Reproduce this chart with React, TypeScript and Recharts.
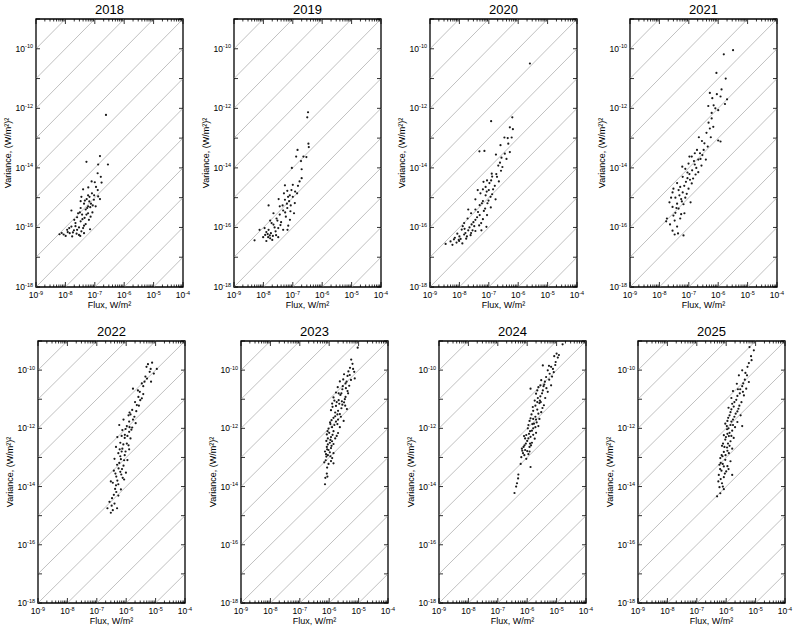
import React from 'react';
import { ScatterChart, Scatter, XAxis, YAxis, ReferenceLine, ReferenceArea } from 'recharts';

// ---------- data ----------
const years = ['2018', '2019', '2020', '2021', '2022', '2023', '2024', '2025'];

const fluxDecadeTicks = [1e-9, 1e-8, 1e-7, 1e-6, 1e-5, 1e-4];
const fluxMinorFactors = [2, 3, 4, 5, 6, 7, 8, 9];
const varianceDecadeTicks = [1e-18, 1e-17, 1e-16, 1e-15, 1e-14, 1e-13, 1e-12, 1e-11, 1e-10, 1e-9];
const varianceLabelTicks = [1e-18, 1e-16, 1e-14, 1e-12, 1e-10];
// guide lines: variance = ratio * flux
const varianceFluxRatios = [1e-13, 1e-12, 1e-11, 1e-10, 1e-9, 1e-8, 1e-7, 1e-6, 1e-5, 1e-4, 1e-3, 1e-2, 1e-1];

const FLUX_DOMAIN: [number, number] = [1e-9, 1e-4];
const VAR_DOMAIN: [number, number] = [1e-18, 1e-9];

// [flux W/m^2, variance (W/m^2)^2]
const points2018: [number, number][] = [
  [2.4e-7, 6e-13], [1.5e-7, 2.5e-14], [5.2e-8, 1.6e-14], [2.8e-7, 1.3e-14], [1.3e-7, 1.3e-14],
  [1.25e-7, 6.6e-15], [1.6e-7, 5e-15], [7.8e-8, 3.5e-15], [1e-7, 3.3e-15], [1.7e-7, 3.2e-15],
  [1.26e-7, 1.8e-15], [4e-8, 1.9e-15], [5.9e-8, 1.2e-15], [6.6e-8, 1.07e-15], [5.3e-8, 9e-16],
  [9.3e-8, 8.5e-16], [1.5e-7, 9e-16], [3.3e-8, 7.6e-16], [7.4e-8, 6.3e-16], [1.07e-7, 5.1e-16],
  [1.6e-8, 3.7e-16], [3.3e-8, 4.5e-16], [4.9e-8, 4e-16], [5.9e-8, 3e-16], [8.3e-8, 3.2e-16],
  [3.7e-8, 2.7e-16], [2.5e-8, 2.2e-16], [4.5e-8, 2.1e-16], [6.3e-8, 1.8e-16], [3.3e-8, 1.6e-16],
  [2.2e-8, 1.4e-16], [4.9e-8, 1.3e-16], [1.6e-8, 1.07e-16], [2.9e-8, 1e-16], [4.3e-8, 1.15e-16],
  [6.9e-8, 8.7e-17], [1.15e-8, 8.3e-17], [1.95e-8, 8e-17], [3.5e-8, 7.4e-17], [1.4e-8, 6.4e-17],
  [2.4e-8, 6.2e-17], [8.7e-9, 5.8e-17], [6.3e-9, 5.9e-17], [1.02e-8, 5.2e-17], [1.7e-8, 5e-17],
  [2.9e-8, 5.6e-17], [4.3e-8, 6.4e-17], [1.35e-8, 9.5e-17], [5.2e-8, 2.7e-16], [7.2e-8, 2.3e-16],
  [3.1e-8, 3.2e-16], [5.9e-8, 5.1e-16], [4.3e-8, 6.3e-16], [9.5e-8, 1.2e-15], [3.5e-8, 1.07e-15],
  [2.5e-8, 8.3e-17], [2e-8, 1.8e-16], [1.2e-8, 7e-17], [2.2e-8, 1.1e-16], [3.8e-8, 1.9e-16],
  [2.7e-8, 3e-16], [5.5e-8, 4.5e-16], [4e-8, 9.5e-17], [1.8e-8, 6.8e-17], [7.5e-9, 6.5e-17],
  [3.2e-8, 5.2e-17], [6.5e-8, 7.5e-16], [8e-8, 1.4e-15], [1.1e-7, 2.3e-15], [6e-8, 2.2e-15],
  [4.6e-8, 8e-16], [8.5e-8, 5.5e-16], [1.3e-7, 1.1e-15], [7e-8, 4.8e-16],
];

const points2019: [number, number][] = [
  [3.3e-7, 7.4e-13], [3.1e-7, 5e-13], [3.4e-7, 6.5e-14], [3.5e-7, 5e-14], [1.45e-7, 4e-14],
  [1.3e-7, 2.4e-14], [2.3e-7, 2.4e-14], [2.9e-7, 2.3e-14], [1.9e-7, 1.7e-14], [9.3e-8, 1e-14],
  [2e-7, 9e-15], [2e-7, 4.5e-15], [5.4e-8, 2.6e-15], [1e-7, 2.7e-15], [6.5e-8, 1.7e-15],
  [1.2e-7, 1.6e-15], [7.9e-8, 1.2e-15], [1e-7, 1.07e-15], [1.4e-7, 1.4e-15], [5.4e-8, 8.5e-16],
  [7.5e-8, 7.6e-16], [3.3e-8, 9e-16], [1.5e-8, 5.5e-16], [4.5e-8, 5.5e-16], [6.5e-8, 4.5e-16],
  [4.7e-8, 3.7e-16], [8.3e-8, 3.5e-16], [1.1e-7, 3e-16], [3.6e-8, 2.7e-16], [5.8e-8, 2.3e-16],
  [2.8e-8, 2e-16], [8e-8, 1.8e-16], [1.7e-8, 1.7e-16], [4e-8, 1.5e-16], [2.2e-8, 1.25e-16],
  [7e-8, 1.15e-16], [1.1e-8, 9.5e-17], [3.2e-8, 9.5e-17], [7.4e-9, 8.3e-17], [4.7e-8, 8.3e-17],
  [1.26e-8, 7e-17], [1.8e-8, 6.4e-17], [2.6e-8, 7.4e-17], [5e-9, 3.7e-17], [1.15e-8, 5.6e-17],
  [1.45e-8, 4.7e-17], [2e-8, 3.8e-17], [1.26e-8, 3.5e-17], [1.65e-8, 5.4e-17], [9.8e-9, 4.7e-17],
  [3.2e-8, 4.7e-17], [1.5e-8, 8.3e-17], [2.2e-8, 3e-16], [3.6e-8, 5.1e-16], [5e-8, 1.4e-15],
  [6.9e-8, 1.07e-15], [1.17e-7, 6.6e-16], [6.3e-8, 6.3e-16], [9e-8, 1.8e-15], [6.6e-8, 8.3e-17],
  [1.4e-8, 6e-17], [2.1e-8, 5.2e-17], [1.7e-8, 4.3e-17], [2.4e-8, 1e-16], [1.9e-8, 1.4e-16],
  [3e-8, 1.7e-16], [2.7e-8, 5.5e-17], [3.8e-8, 1.2e-16], [5.5e-8, 3.2e-16], [8.5e-8, 5.5e-16],
  [1.5e-7, 2.5e-15], [1.7e-7, 3.5e-15],
];

const points2020: [number, number][] = [
  [2.5e-6, 3.2e-11], [1.2e-7, 3.7e-13], [6.3e-7, 5e-13], [5.2e-7, 2.3e-13], [6.6e-7, 2e-13],
  [3.4e-7, 1.05e-13], [4.4e-7, 1e-13], [6e-7, 1.05e-13], [2.5e-7, 5.8e-14], [4.8e-8, 3.6e-14],
  [7.1e-8, 3.7e-14], [5.2e-7, 3.4e-14], [1.75e-7, 2.8e-14], [2.7e-7, 2.2e-14], [4e-7, 2e-14],
  [2.4e-7, 1.5e-14], [2.9e-7, 1.07e-14], [1.8e-7, 6.2e-15], [1.26e-7, 6.4e-15], [1.9e-7, 5e-15],
  [1.3e-7, 5.1e-15], [2.2e-7, 3.5e-15], [4.2e-8, 1.8e-15], [6.3e-8, 1.9e-15], [1e-7, 1.8e-15],
  [1.4e-7, 1.9e-15], [5.2e-8, 1.4e-15], [7.8e-8, 1.2e-15], [1.15e-7, 1.07e-15], [1.7e-7, 8.8e-16],
  [3.5e-8, 8.8e-16], [6.3e-8, 7.7e-16], [9e-8, 6.5e-16], [4.9e-8, 5.6e-16], [1.17e-7, 4.7e-16],
  [3.5e-8, 4e-16], [6.8e-8, 3.6e-16], [2.5e-8, 3e-16], [4.9e-8, 2.6e-16], [8.7e-8, 2.6e-16],
  [1.9e-8, 2e-16], [3.5e-8, 1.8e-16], [6.3e-8, 1.9e-16], [1.45e-8, 1.4e-16], [2.6e-8, 1.26e-16],
  [4.7e-8, 1.17e-16], [8.3e-8, 1.05e-16], [1.2e-8, 8.5e-17], [2e-8, 8e-17], [3.5e-8, 7.6e-17],
  [8.5e-9, 6.2e-17], [1.45e-8, 5.8e-17], [2.4e-8, 5.5e-17], [7e-9, 4.5e-17], [1.1e-8, 4.1e-17],
  [1.7e-8, 4.2e-17], [3.4e-9, 2.8e-17], [5e-9, 3.4e-17], [8e-9, 3.1e-17], [1.26e-8, 2.9e-17],
  [9.8e-9, 3.5e-17], [5.8e-9, 2.6e-17], [2.8e-8, 8e-17], [5.6e-8, 8e-17], [7.8e-8, 2.3e-15],
  [1.05e-7, 3.1e-15], [8.7e-8, 3.8e-15], [6.6e-8, 3.4e-15], [1e-8, 5e-17], [1.6e-8, 6.5e-17],
  [2.2e-8, 1e-16], [3e-8, 1.5e-16], [4e-8, 2.2e-16], [9.5e-9, 3.8e-17], [1.5e-8, 9e-17],
  [2.5e-8, 6.5e-17], [3.2e-8, 1.1e-16], [5.5e-8, 1.4e-16], [4.3e-8, 3.3e-16], [7.5e-8, 4.3e-16],
  [5.8e-8, 6.5e-16], [9.8e-8, 8e-16], [1.3e-7, 1.3e-15], [8.5e-8, 1.6e-15], [1.6e-7, 2.5e-15],
  [1.2e-7, 3.8e-15], [2.6e-7, 8e-15], [2.1e-7, 1.2e-14], [3.5e-7, 3e-14], [4.6e-7, 6.5e-14],
  [2e-8, 4e-16], [1.3e-8, 1.1e-16], [6.5e-9, 4e-17], [1.8e-8, 5e-17],
];

const points2021: [number, number][] = [
  [3.2e-6, 9e-11], [1.55e-6, 6.5e-11], [8.7e-7, 1.55e-11], [1.8e-6, 1e-11], [1.3e-6, 4.3e-12],
  [5.2e-7, 3.3e-12], [6.3e-7, 2.2e-12], [2e-6, 2e-12], [1.7e-6, 1.4e-12], [4.6e-7, 1.2e-12],
  [7e-7, 1.26e-12], [8e-7, 1e-12], [1e-6, 8.7e-13], [6e-7, 4.6e-13], [4.7e-7, 3.3e-13],
  [5.2e-7, 2.1e-13], [6.8e-7, 2.4e-13], [2.2e-7, 1.07e-13], [5.6e-7, 1.07e-13], [1e-6, 8.3e-14],
  [1.2e-6, 7.7e-14], [3.4e-7, 6.7e-14], [4.4e-7, 5.2e-14], [1.6e-7, 3.1e-14], [2.4e-7, 3.1e-14],
  [2.9e-7, 2.7e-14], [1.26e-7, 2.4e-14], [2.1e-7, 1.9e-14], [3.8e-7, 1.9e-14], [9.8e-8, 1.4e-14],
  [1.6e-7, 1.3e-14], [2.7e-7, 1.2e-14], [7.6e-8, 9.3e-15], [1.3e-7, 8.3e-15], [2.1e-7, 7.2e-15],
  [1.05e-7, 6.2e-15], [6.2e-8, 5e-15], [1.4e-7, 4.4e-15], [4e-8, 3.1e-15], [8e-8, 3.4e-15],
  [1.26e-7, 3e-15], [5.1e-8, 2.3e-15], [9.8e-8, 2e-15], [2.8e-8, 1.5e-15], [6.2e-8, 1.5e-15],
  [8.5e-8, 1.35e-15], [3.5e-8, 1e-15], [5.5e-8, 9e-16], [2.2e-8, 7e-16], [4e-8, 6.3e-16],
  [6.6e-8, 6e-16], [2.8e-8, 4.9e-16], [4.5e-8, 4.3e-16], [3.5e-8, 3.1e-16], [5.5e-8, 2.8e-16],
  [1.8e-8, 2e-16], [3.3e-8, 1.7e-16], [5.1e-8, 2e-16], [2.3e-8, 1.26e-16], [4e-8, 1.07e-16],
  [2.8e-8, 7.8e-17], [4.3e-8, 6.3e-17], [6.6e-8, 5.4e-17], [3.3e-8, 5.8e-17], [1.7e-8, 1.6e-16],
  [7.6e-8, 1e-15], [1.15e-7, 7e-16], [7.1e-8, 3e-16], [1.05e-7, 2.4e-14], [1.9e-7, 4e-14],
  [1.8e-7, 1e-14], [9e-8, 4.5e-15], [4.8e-8, 1.2e-15], [3e-8, 2.5e-16], [3.8e-8, 4.5e-16],
  [5.8e-8, 7.5e-16], [4.5e-8, 1.8e-15], [7e-8, 2.5e-15], [1.1e-7, 4e-15], [9e-8, 7e-15],
  [1.5e-7, 1.7e-14], [2.5e-7, 2e-14], [3.2e-7, 4e-14], [2.8e-7, 8e-14], [4e-7, 1.5e-13],
  [6e-7, 7e-13], [9e-7, 3e-12], [1.2e-6, 2.5e-12], [2.5e-8, 1e-15], [3e-8, 2e-15],
  [6e-8, 1.1e-14], [1.7e-7, 6e-15],
];

const points2022: [number, number][] = [
  [7.6e-6, 1.8e-10], [1.1e-5, 1.1e-10], [4.9e-6, 1.3e-10], [6.3e-6, 8.7e-11], [8.7e-6, 7.6e-11],
  [5.1e-6, 5.1e-11], [7e-6, 4e-11], [4.2e-6, 4e-11], [3.8e-6, 2.8e-11], [1.7e-6, 2.3e-11],
  [2.9e-6, 1.8e-11], [2.6e-6, 1.2e-11], [3.4e-6, 1.07e-11], [3e-6, 9.3e-12], [2.3e-6, 6.3e-12],
  [1.6e-6, 4.3e-12], [2.2e-6, 3.9e-12], [1.2e-6, 2.8e-12], [1.9e-6, 2.5e-12], [8.1e-7, 2e-12],
  [1.26e-6, 1.7e-12], [2.1e-6, 1.5e-12], [5.8e-7, 1.3e-12], [1.05e-6, 1.2e-12], [1.6e-6, 1.07e-12],
  [7.4e-7, 8.7e-13], [1.26e-6, 7.6e-13], [5e-7, 5e-13], [8.9e-7, 4.7e-13], [1.4e-6, 4.5e-13],
  [6.3e-7, 3.2e-13], [1.05e-6, 3e-13], [4.5e-7, 2.3e-13], [7.4e-7, 2e-13], [1.26e-6, 1.9e-13],
  [5.4e-7, 1.4e-13], [8.9e-7, 1.2e-13], [4e-7, 9e-14], [6.6e-7, 8.7e-14], [1.1e-6, 8.1e-14],
  [4.9e-7, 5.6e-14], [8.1e-7, 5.2e-14], [3.8e-7, 3.5e-14], [6.3e-7, 3.2e-14], [9.8e-7, 3e-14],
  [4.6e-7, 2.2e-14], [7.6e-7, 2e-14], [3.5e-7, 1.35e-14], [5.4e-7, 1.2e-14], [4.2e-7, 8.3e-15],
  [6.6e-7, 8e-15], [3.8e-7, 5.2e-15], [5.4e-7, 4.9e-15], [2.7e-7, 3e-15], [4e-7, 2.6e-15],
  [2.3e-7, 1.8e-15], [3.5e-7, 1.55e-15], [4.9e-7, 1.8e-15], [3e-7, 1.26e-15], [8.5e-7, 1.75e-14],
  [3e-7, 1.5e-14], [9e-7, 6e-13], [1.5e-6, 9e-13], [7e-7, 1.6e-13], [5.8e-7, 6.5e-14],
  [1.3e-6, 3.5e-12], [5.5e-6, 1.6e-10], [6.8e-6, 1.1e-10], [4.5e-6, 6e-11], [3.4e-6, 3.5e-11],
  [2.5e-6, 2e-11], [3.8e-6, 1.5e-11], [2e-6, 8e-12], [2.7e-6, 6e-12], [1.4e-6, 3e-12],
  [1.7e-6, 2e-12], [1.3e-6, 1.1e-12], [9.5e-7, 9.5e-13], [1.1e-6, 5.5e-13], [7e-7, 5.5e-13],
  [8e-7, 2.8e-13], [1.2e-6, 2.6e-13], [6e-7, 1.9e-13], [9.5e-7, 1.6e-13], [6.3e-7, 1.1e-13],
  [8.5e-7, 8e-14], [5.5e-7, 4.2e-14], [7.2e-7, 4e-14], [4.3e-7, 2.8e-14], [6.8e-7, 2.6e-14],
  [5e-7, 1.6e-14], [4.5e-7, 1.1e-14], [3.3e-7, 4e-15], [4.6e-7, 6.5e-15], [3.2e-7, 2.2e-15],
];

const points2023: [number, number][] = [
  [5.6e-6, 2.3e-10], [6.2e-6, 1.65e-10], [5.1e-6, 1.2e-10], [7.1e-6, 8.7e-11], [3.2e-6, 7.2e-11],
  [4.2e-6, 6.3e-11], [7.4e-6, 5.2e-11], [5.5e-6, 4.6e-11], [2.3e-6, 4.1e-11], [3.6e-6, 3.5e-11],
  [4.8e-6, 2.9e-11], [1.95e-6, 2.6e-11], [2.8e-6, 2.2e-11], [4.2e-6, 1.9e-11], [1.7e-6, 1.7e-11],
  [2.4e-6, 1.4e-11], [3.6e-6, 1.2e-11], [1.4e-6, 1.15e-11], [2.1e-6, 9.3e-12], [3.2e-6, 7.8e-12],
  [1.26e-6, 7.1e-12], [1.7e-6, 5.9e-12], [2.6e-6, 4.9e-12], [4e-6, 4.6e-12], [1.15e-6, 4.2e-12],
  [1.6e-6, 3.5e-12], [2.3e-6, 3.1e-12], [1.4e-6, 2.3e-12], [2e-6, 2e-12], [3.1e-6, 1.8e-12],
  [1.07e-6, 1.6e-12], [1.5e-6, 1.3e-12], [2.3e-6, 1.1e-12], [9.5e-7, 9.8e-13], [1.4e-6, 8e-13],
  [2e-6, 6.9e-13], [8.3e-7, 6.2e-13], [1.15e-6, 5e-13], [1.6e-6, 4.5e-13], [8e-7, 3.7e-13],
  [1.05e-6, 3.2e-13], [1.4e-6, 2.9e-13], [8.3e-7, 2.3e-13], [1.15e-6, 2.1e-13], [7.2e-7, 1.6e-13],
  [1.05e-6, 1.5e-13], [1.4e-6, 1.4e-13], [8e-7, 1.07e-13], [1.26e-6, 9.5e-14], [6.8e-7, 6.8e-14],
  [9.5e-7, 6e-14], [1.4e-6, 6.3e-14], [8.3e-7, 2.8e-14], [7.4e-7, 2e-14], [8.7e-7, 2.2e-14],
  [7.2e-7, 1.2e-14], [9.3e-6, 5.9e-10], [1.8e-6, 8e-12], [2.8e-6, 6.5e-12], [1.9e-6, 3e-12],
  [1.2e-6, 1.9e-12], [1.7e-6, 1.7e-12], [1.25e-6, 1.1e-12], [1e-6, 7e-13], [9e-7, 2.8e-13],
  [1.1e-6, 4e-13], [9.5e-7, 1.8e-13], [4.5e-6, 9e-11], [3e-6, 4.8e-11], [2.6e-6, 1.6e-11],
  [9e-7, 1.2e-13], [1.3e-6, 5.5e-12], [2.2e-6, 7e-12], [3.4e-6, 1e-11], [2.9e-6, 2.8e-11],
  [3.9e-6, 4e-11], [5e-6, 6.8e-11], [6.5e-6, 1.1e-10], [1.6e-6, 2.6e-12], [2.5e-6, 2.5e-12],
  [1.1e-6, 1.4e-12], [1.9e-6, 1.4e-12], [8.8e-7, 8e-13], [1.3e-6, 6e-13], [1.8e-6, 5.5e-13],
  [9e-7, 4.5e-13], [1.25e-6, 3.6e-13], [8.5e-7, 1.9e-13], [1.2e-6, 2.5e-13], [7.8e-7, 1.3e-13],
  [1.1e-6, 1.1e-13], [7.6e-7, 8e-14], [1.15e-6, 7.5e-14], [8.5e-7, 4.5e-14], [2.1e-6, 1.6e-11],
  [3.7e-6, 2.4e-11], [4.4e-6, 1.6e-11], [2.7e-6, 8.5e-12], [1.5e-6, 9e-12], [2e-6, 4e-12],
  [3.5e-6, 6e-12],
];

const points2024: [number, number][] = [
  [1.6e-5, 7.7e-10], [1e-5, 3.7e-10], [1.1e-5, 2.7e-10], [8.3e-6, 3e-10], [9.3e-6, 1.9e-10],
  [3.4e-6, 1.45e-10], [6.5e-6, 1.3e-10], [8e-6, 8.5e-11], [5e-6, 9.8e-11], [4.4e-6, 5.8e-11],
  [5.6e-6, 4.7e-11], [3e-6, 4.5e-11], [3.8e-6, 3.2e-11], [6.5e-6, 3e-11], [2.4e-6, 2.6e-11],
  [1.3e-6, 2.3e-11], [3.4e-6, 2e-11], [5e-6, 1.8e-11], [2e-6, 1.55e-11], [2.8e-6, 1.26e-11],
  [4.1e-6, 1.1e-11], [1.8e-6, 9e-12], [2.6e-6, 7.4e-12], [3.7e-6, 6.2e-12], [1.55e-6, 5.4e-12],
  [2.2e-6, 4.4e-12], [3e-6, 3.6e-12], [1.4e-6, 3e-12], [1.9e-6, 2.5e-12], [2.6e-6, 2.1e-12],
  [1.2e-6, 1.8e-12], [1.7e-6, 1.45e-12], [2.4e-6, 1.2e-12], [1.05e-6, 1e-12], [1.45e-6, 8.3e-13],
  [2e-6, 7e-13], [9.3e-7, 5.9e-13], [1.3e-6, 5.1e-13], [1.8e-6, 4.4e-13], [7.8e-7, 5.4e-13],
  [1e-6, 3.7e-13], [1.45e-6, 3.2e-13], [8.1e-7, 2.6e-13], [1.2e-6, 2.3e-13], [6.6e-7, 2e-13],
  [1e-6, 1.65e-13], [7.2e-7, 1.4e-13], [1.1e-6, 1.3e-13], [6.3e-7, 1.02e-13], [9.3e-7, 9e-14],
  [1.3e-6, 4.7e-14], [5e-7, 2.6e-14], [4.9e-7, 1.9e-14], [4.5e-7, 1.3e-14], [4.2e-7, 1e-14],
  [3.7e-7, 6e-15], [6e-7, 6e-14], [2.2e-6, 2e-11], [2.7e-6, 9e-12], [1.6e-6, 2.1e-12],
  [2.1e-6, 1.6e-12], [1.15e-6, 6.5e-13], [1.6e-6, 1e-12], [3.3e-6, 5e-12], [1.25e-6, 3e-13],
  [8.5e-7, 1.8e-13], [4.5e-6, 2.4e-11], [7e-6, 6e-11], [9e-6, 1.5e-10], [7.5e-6, 1.1e-10],
  [5.8e-6, 7.5e-11], [4e-6, 4e-11], [2.8e-6, 3e-11], [3.2e-6, 1.6e-11], [2.3e-6, 1.1e-11],
  [1.9e-6, 6e-12], [2.9e-6, 8e-12], [1.6e-6, 4e-12], [2.4e-6, 3.2e-12], [1.3e-6, 2.2e-12],
  [2e-6, 2e-12], [1.1e-6, 1.3e-12], [1.9e-6, 1.1e-12], [1.25e-6, 8e-13], [8.5e-7, 4.5e-13],
  [1.6e-6, 6e-13], [1.1e-6, 4.5e-13], [9e-7, 3e-13], [1.35e-6, 2.6e-13], [7.5e-7, 2.3e-13],
  [1.2e-6, 1.6e-13], [8e-7, 1.2e-13], [6.8e-7, 1.7e-13], [1.5e-6, 1.4e-12], [2.2e-6, 8e-12],
  [3.6e-6, 2.8e-11], [5.5e-6, 1.4e-10], [1.2e-5, 3.3e-10],
];

const points2025: [number, number][] = [
  [6.2e-6, 6.2e-10], [8.7e-6, 4.8e-10], [7.3e-6, 2.2e-10], [5.9e-6, 1.75e-10], [3.5e-6, 9.8e-11],
  [5.1e-6, 6.6e-11], [2.7e-6, 6.6e-11], [4.3e-6, 4.7e-11], [5.9e-6, 3.9e-11], [2.3e-6, 3.4e-11],
  [3.5e-6, 2.8e-11], [4.8e-6, 2.3e-11], [1.7e-6, 1.9e-11], [2.9e-6, 1.6e-11], [4e-6, 1.35e-11],
  [1.5e-6, 1.1e-11], [2.2e-6, 9.5e-12], [3.3e-6, 7.9e-12], [1.2e-6, 5.1e-12], [1.8e-6, 5.6e-12],
  [2.6e-6, 4.7e-12], [1.4e-6, 3.6e-12], [2.1e-6, 3.2e-12], [3.1e-6, 2.8e-12], [1.17e-6, 2.3e-12],
  [1.7e-6, 2e-12], [2.4e-6, 1.65e-12], [9.3e-7, 1.45e-12], [1.4e-6, 1.3e-12], [3.5e-6, 1.2e-12],
  [1.07e-6, 9.3e-13], [1.6e-6, 8.3e-13], [8.3e-7, 5.8e-13], [1.23e-6, 5.4e-13], [1.8e-6, 4.7e-13],
  [9.3e-7, 4.1e-13], [1.4e-6, 3.6e-13], [7.2e-7, 2.5e-13], [1.07e-6, 2.2e-13], [1.6e-6, 2e-13],
  [8.3e-7, 1.55e-13], [1.23e-6, 1.4e-13], [6.3e-7, 9.5e-14], [9.3e-7, 8.3e-14], [1.4e-6, 7.4e-14],
  [5.9e-7, 5.6e-14], [8.3e-7, 4.9e-14], [6.9e-7, 3.5e-14], [1e-6, 3.3e-14], [5.6e-7, 2.5e-14],
  [8.3e-7, 2.1e-14], [1.6e-6, 2.5e-14], [5.4e-7, 1.5e-14], [7.2e-7, 1.3e-14], [5.9e-7, 9.5e-15],
  [8.3e-7, 8.1e-15], [4.9e-7, 4.6e-15], [6.3e-7, 5.9e-15], [1.9e-6, 8e-12], [1.3e-6, 2.8e-12],
  [2e-6, 1.1e-12], [1.1e-6, 6.5e-13], [7.8e-7, 3e-13], [1.2e-6, 1e-12], [6.5e-7, 6.5e-14],
  [7.5e-7, 1.1e-13], [2.5e-6, 2.2e-11], [1.1e-6, 1.8e-12], [7e-6, 3e-10], [5.3e-6, 1.3e-10],
  [4.5e-6, 8e-11], [3.8e-6, 3.5e-11], [3e-6, 2.2e-11], [2.4e-6, 1.3e-11], [3.7e-6, 1.8e-11],
  [1.6e-6, 7e-12], [2.8e-6, 6e-12], [1.5e-6, 4.5e-12], [2.4e-6, 3.8e-12], [1.9e-6, 2.5e-12],
  [1.5e-6, 1.7e-12], [1.05e-6, 1.2e-12], [1.7e-6, 1.3e-12], [1.3e-6, 7e-13], [9.8e-7, 5e-13],
  [1.5e-6, 5.5e-13], [1.15e-6, 3e-13], [8.7e-7, 2.3e-13], [1.3e-6, 2.5e-13], [9.5e-7, 1.2e-13],
  [7e-7, 1.2e-13], [1.1e-6, 1.7e-13], [7.6e-7, 6e-14], [1.1e-6, 5e-14], [6.2e-7, 4e-14],
  [9e-7, 2.8e-14], [6.5e-7, 1.8e-14], [7.7e-7, 1e-14], [1.2e-6, 4e-14],
];

const yearPoints = [points2018, points2019, points2020, points2021, points2022, points2023, points2024, points2025];

// ---------- derived tables ----------
const fluxTicks: number[] = [];
fluxDecadeTicks.forEach((d, i) => {
  fluxTicks.push(d);
  if (i < fluxDecadeTicks.length - 1) fluxMinorFactors.forEach((m) => fluxTicks.push(m * d));
});

const diagonalSegments = varianceFluxRatios.map((r) => {
  const xa = Math.max(FLUX_DOMAIN[0], VAR_DOMAIN[0] / r);
  const xb = Math.min(FLUX_DOMAIN[1], VAR_DOMAIN[1] / r);
  return [
    { x: xa, y: xa * r },
    { x: xb, y: xb * r },
  ];
});

const isIn = (list: number[], v: number) => list.some((t) => Math.abs(t - v) / t < 1e-6);

// ---------- layout ----------
const PANEL_W = 147;
const AXIS_W = 36;
const TOP_M = 19;
const RIGHT_M = 12;
const AXIS_H = 30;
const FONT = "'Liberation Sans', Arial, Helvetica, sans-serif";

const panelBoxes = [
  { left: 36, top: 19, height: 268 },
  { left: 234, top: 19, height: 268 },
  { left: 430, top: 19, height: 268 },
  { left: 630, top: 19, height: 268 },
  { left: 38, top: 341, height: 262 },
  { left: 241, top: 341, height: 262 },
  { left: 439, top: 341, height: 262 },
  { left: 638, top: 341, height: 262 },
];

const makeXTick = (plotH: number) => (props: any) => {
  const { x, y, payload } = props;
  const v = payload.value;
  const major = isIn(fluxDecadeTicks, v);
  const len = major ? 5 : 2.5;
  const exp = Math.round(Math.log10(v));
  return (
    <g>
      <line x1={x} y1={y} x2={x} y2={y - len} stroke="#000" strokeWidth={0.8} />
      <line x1={x} y1={y - plotH} x2={x} y2={y - plotH + len} stroke="#000" strokeWidth={0.8} />
      {major && (
        <text x={x} y={y + 11} textAnchor="middle" fontSize={8.5} fill="#000">
          10
          <tspan dy={-3.5} fontSize={5.5}>
            {exp}
          </tspan>
        </text>
      )}
    </g>
  );
};

const makeYTick = (plotW: number) => (props: any) => {
  const { x, y, payload } = props;
  const v = payload.value;
  const labeled = isIn(varianceLabelTicks, v);
  const exp = Math.round(Math.log10(v));
  return (
    <g>
      <line x1={x} y1={y} x2={x + 4} y2={y} stroke="#000" strokeWidth={0.8} />
      <line x1={x + plotW} y1={y} x2={x + plotW - 4} y2={y} stroke="#000" strokeWidth={0.8} />
      {labeled && (
        <text x={x - 3} y={y + 3} textAnchor="end" fontSize={8.5} fill="#000">
          10
          <tspan dy={-3.5} fontSize={5.5}>
            {exp}
          </tspan>
        </text>
      )}
    </g>
  );
};

const Dot = (p: any) => <circle cx={p.cx} cy={p.cy} r={1.1} fill="#1a1a1a" />;

function Panel({ year, points, box }: { year: string; points: [number, number][]; box: { left: number; top: number; height: number } }) {
  const data = points.map(([flux, variance]) => ({ flux, variance }));
  const chartW = AXIS_W + PANEL_W + RIGHT_M;
  const chartH = TOP_M + box.height + AXIS_H;
  return (
    <div style={{ position: 'absolute', left: box.left - AXIS_W, top: box.top - TOP_M }}>
      <ScatterChart
        width={chartW}
        height={chartH}
        margin={{ top: TOP_M, right: RIGHT_M, bottom: 0, left: 0 }}
        style={{ fontFamily: FONT }}
      >
        <XAxis
          type="number"
          dataKey="flux"
          scale="log"
          domain={FLUX_DOMAIN}
          allowDataOverflow
          ticks={fluxTicks}
          interval={0}
          tick={makeXTick(box.height)}
          tickLine={false}
          axisLine={false}
          tickSize={0}
          tickMargin={0}
          height={AXIS_H}
          label={{ value: 'Flux, W/m²', position: 'insideBottom', offset: 9, fontSize: 9, fill: '#000' }}
        />
        <YAxis
          type="number"
          dataKey="variance"
          scale="log"
          domain={VAR_DOMAIN}
          allowDataOverflow
          ticks={varianceDecadeTicks}
          interval={0}
          tick={makeYTick(PANEL_W)}
          tickLine={false}
          axisLine={false}
          tickSize={0}
          tickMargin={0}
          width={AXIS_W}
          label={{
            value: 'Variance, (W/m²)²',
            angle: -90,
            position: 'insideLeft',
            offset: 8,
            fontSize: 9,
            fill: '#000',
            style: { textAnchor: 'middle' },
          }}
        />
        {diagonalSegments.map((seg, i) => (
          <ReferenceLine key={i} segment={seg} stroke="#b0b0b0" strokeWidth={0.8} ifOverflow="visible" />
        ))}
        <ReferenceArea
          x1={FLUX_DOMAIN[0]}
          x2={FLUX_DOMAIN[1]}
          y1={VAR_DOMAIN[0]}
          y2={VAR_DOMAIN[1]}
          fill="none"
          stroke="#000"
          strokeWidth={1.3}
          ifOverflow="visible"
          label={{ value: year, position: 'top', offset: 5, fontSize: 13, fill: '#000' }}
        />
        <Scatter data={data} shape={Dot} isAnimationActive={false} />
      </ScatterChart>
    </div>
  );
}

export default function App() {
  return (
    <div style={{ position: 'absolute', left: 0, top: 0, width: 800, height: 636, background: '#fff', fontFamily: FONT }}>
      {years.map((y, i) => (
        <Panel key={y} year={y} points={yearPoints[i]} box={panelBoxes[i]} />
      ))}
    </div>
  );
}
